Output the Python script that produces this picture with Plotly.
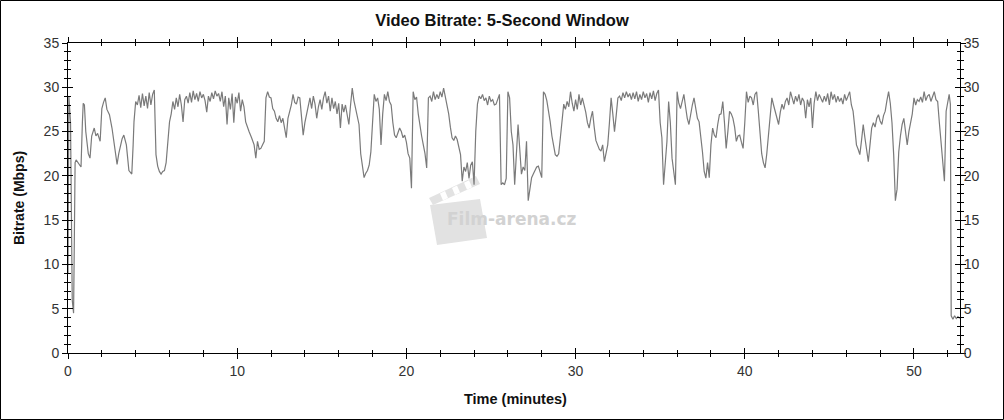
import plotly.graph_objects as go

# ---- data ----
time_min = [
    0, 0.05, 0.15, 0.25, 0.33, 0.42, 0.48, 0.6, 0.77, 0.85, 0.9, 0.97, 1.05, 1.2, 1.3, 1.4, 1.55, 1.65, 1.75, 1.9,
    2.0, 2.1, 2.2, 2.3, 2.45, 2.6, 2.7, 2.8, 2.9, 3.0, 3.1, 3.2, 3.3, 3.45, 3.6, 3.7, 3.77, 3.85, 3.9,
    4.0, 4.1, 4.2, 4.3, 4.4, 4.5, 4.6, 4.7, 4.8, 4.9, 5.0, 5.1, 5.2, 5.3, 5.4, 5.5, 5.6, 5.7, 5.8, 5.9,
    6.0, 6.1, 6.2, 6.3, 6.4, 6.5, 6.6, 6.7, 6.8, 6.9, 7.0, 7.1, 7.2, 7.3, 7.4, 7.5, 7.6, 7.7, 7.8, 7.9,
    8.0, 8.1, 8.2, 8.3, 8.4, 8.5, 8.6, 8.7, 8.8, 8.9, 9.0, 9.1, 9.2, 9.3, 9.4, 9.5, 9.6, 9.7, 9.8, 9.9,
    10.0, 10.1, 10.2, 10.3, 10.4, 10.5, 10.6, 10.7, 10.85, 11.0, 11.1, 11.2, 11.3, 11.4, 11.5, 11.6, 11.7, 11.8, 11.9,
    12.0, 12.1, 12.2, 12.3, 12.4, 12.5, 12.6, 12.7, 12.8, 12.9, 13.0, 13.1, 13.2, 13.3, 13.4, 13.5, 13.6, 13.7, 13.8, 13.9,
    14.0, 14.1, 14.2, 14.3, 14.4, 14.5, 14.6, 14.7, 14.8, 14.9, 15.0, 15.1, 15.2, 15.3, 15.4, 15.5, 15.6, 15.7, 15.8, 15.9,
    16.0, 16.1, 16.2, 16.3, 16.4, 16.5, 16.6, 16.7, 16.8, 16.9, 17.0, 17.1, 17.2, 17.3, 17.4, 17.5, 17.6, 17.7, 17.8, 17.9,
    18.0, 18.1, 18.2, 18.3, 18.4, 18.5, 18.6, 18.7, 18.8, 18.9, 19.0, 19.1, 19.2, 19.3, 19.4, 19.5, 19.6, 19.7, 19.8, 19.9,
    20.0, 20.1, 20.2, 20.3, 20.4, 20.5, 20.6, 20.7, 20.8, 20.9, 21.0, 21.1, 21.2, 21.3, 21.4, 21.5, 21.6, 21.7, 21.8, 21.9,
    22.0, 22.1, 22.2, 22.3, 22.4, 22.5, 22.6, 22.7, 22.8, 22.9, 23.0, 23.1, 23.2, 23.3, 23.4, 23.5, 23.6, 23.7, 23.8, 23.9,
    24.0, 24.1, 24.2, 24.3, 24.4, 24.5, 24.6, 24.7, 24.8, 24.9, 25.0, 25.1, 25.2, 25.3, 25.4, 25.5, 25.6, 25.7, 25.8, 25.9,
    26.0, 26.1, 26.2, 26.3, 26.4, 26.5, 26.6, 26.7, 26.8, 26.9, 27.0, 27.1, 27.2, 27.3, 27.4, 27.5, 27.6, 27.7, 27.8, 27.9,
    28.0, 28.1, 28.2, 28.3, 28.4, 28.5, 28.6, 28.7, 28.8, 28.9, 29.0, 29.1, 29.2, 29.3, 29.4, 29.5, 29.6, 29.7, 29.8, 29.9,
    30.0, 30.1, 30.2, 30.3, 30.4, 30.5, 30.6, 30.7, 30.8, 30.9, 31.0, 31.1, 31.2, 31.3, 31.4, 31.5, 31.6, 31.7, 31.8, 31.9,
    32.0, 32.1, 32.2, 32.3, 32.4, 32.5, 32.6, 32.7, 32.8, 32.9, 33.0, 33.1, 33.2, 33.3, 33.4, 33.5, 33.6, 33.7, 33.8, 33.9,
    34.0, 34.1, 34.2, 34.3, 34.4, 34.5, 34.6, 34.7, 34.8, 34.9, 35.0, 35.1, 35.2, 35.3, 35.4, 35.5, 35.6, 35.7, 35.8, 35.9,
    36.0, 36.1, 36.2, 36.3, 36.4, 36.5, 36.6, 36.7, 36.8, 36.9, 37.0, 37.1, 37.2, 37.3, 37.4, 37.5, 37.6, 37.7, 37.8, 37.9,
    38.0, 38.1, 38.2, 38.3, 38.4, 38.5, 38.6, 38.7, 38.8, 38.9, 39.0, 39.1, 39.2, 39.3, 39.4, 39.5, 39.6, 39.7, 39.8, 39.9,
    40.0, 40.1, 40.2, 40.3, 40.4, 40.5, 40.6, 40.7, 40.8, 40.9, 41.0, 41.1, 41.2, 41.3, 41.4, 41.5, 41.6, 41.7, 41.8, 41.9,
    42.0, 42.1, 42.2, 42.3, 42.4, 42.5, 42.6, 42.7, 42.8, 42.9, 43.0, 43.1, 43.2, 43.3, 43.4, 43.5, 43.6, 43.7, 43.8, 43.9,
    44.0, 44.1, 44.2, 44.3, 44.4, 44.5, 44.6, 44.7, 44.8, 44.9, 45.0, 45.1, 45.2, 45.3, 45.4, 45.5, 45.6, 45.7, 45.8, 45.9,
    46.0, 46.1, 46.2, 46.3, 46.4, 46.5, 46.6, 46.7, 46.8, 46.9, 47.0, 47.1, 47.2, 47.3, 47.4, 47.5, 47.6, 47.7, 47.8, 47.9,
    48.0, 48.1, 48.2, 48.3, 48.4, 48.5, 48.6, 48.7, 48.8, 48.9, 49.0, 49.1, 49.2, 49.3, 49.4, 49.5, 49.6, 49.7, 49.8, 49.9,
    50.0, 50.1, 50.2, 50.3, 50.4, 50.5, 50.6, 50.7, 50.8, 50.9, 51.0, 51.1, 51.2, 51.3, 51.4, 51.5, 51.6, 51.7, 51.8, 51.9,
    52.0, 52.08, 52.15, 52.2, 52.3, 52.4, 52.5, 52.6, 52.7,
]

bitrate_mbps = [
    9.0, 29.0, 26.0, 6.0, 4.5, 21.5, 21.8, 21.5, 21.0, 26.0, 28.2, 28.0, 25.0, 22.5, 22.0, 24.5, 25.4, 24.5, 24.8, 23.9,
    27.6, 28.3, 28.8, 27.5, 26.9, 25.4, 24.1, 22.5, 21.3, 22.5, 23.5, 24.2, 24.6, 23.5, 20.6, 20.4, 20.2, 23.5, 26.1,
    28.4, 28.0, 29.1, 27.7, 29.3, 27.9, 29.0, 27.6, 29.4, 28.0, 29.2, 29.7, 22.4, 21.1, 20.5, 20.2, 20.5, 20.6, 21.5, 23.5,
    26.1, 27.0, 28.4, 27.5, 28.8, 27.8, 29.2, 28.0, 26.1, 28.6, 29.0, 28.2, 29.4, 28.3, 29.6, 28.6, 29.3, 28.4, 29.5, 28.8,
    29.2, 28.5, 27.2, 29.0, 28.4, 29.4, 28.7, 29.6, 29.0, 29.3, 28.4, 29.5, 27.8, 29.0, 25.8, 28.8, 27.5, 29.3, 26.0, 28.9,
    28.2, 29.4, 27.3, 28.6, 27.8, 26.1, 25.5, 25.0, 24.3, 23.5, 22.0, 23.9, 23.0, 23.1, 23.5, 23.9, 28.8, 29.5, 28.9,
    28.8, 27.6, 27.3, 26.5, 26.1, 26.8, 26.0, 26.5, 25.5, 24.3, 26.5, 27.3, 28.0, 29.2, 28.3, 28.1, 28.9, 28.8, 26.5, 24.6,
    26.0, 26.9, 28.0, 28.8, 27.6, 29.0, 28.1, 26.5, 27.8, 28.6, 27.5, 28.8, 29.5, 28.2, 29.0, 27.3, 28.8, 27.6, 28.4, 27.0,
    28.2, 25.4, 28.1, 27.2, 28.0, 26.8, 25.8, 28.0, 29.9, 28.5, 27.6, 26.8, 25.8, 22.5, 20.9, 19.8, 20.3, 20.6, 21.2, 22.7,
    26.0, 29.2, 28.4, 28.8, 27.5, 23.5, 27.0, 29.2, 28.5, 29.5, 28.4, 28.0, 26.0, 24.6, 24.3, 24.8, 25.4, 25.0, 24.3, 24.6,
    23.8, 22.5, 22.0, 18.6, 29.5, 28.6, 28.9, 27.0, 25.4, 24.5, 23.5, 22.5, 20.9, 28.8, 29.0, 28.4, 29.5, 28.6, 29.2, 28.7,
    29.5, 28.9, 29.9, 29.0, 28.1, 27.0, 25.5, 24.3, 24.0, 24.5, 24.1, 23.2, 22.4, 19.4, 21.0, 20.5, 21.5, 19.7, 21.2, 21.6,
    19.0, 25.0, 28.1, 29.0, 28.7, 29.2, 28.5, 28.8, 28.0, 29.0, 28.4, 28.6, 28.0, 28.1, 28.6, 29.2, 19.0, 19.2, 19.0, 19.7,
    29.5, 28.8, 25.0, 23.5, 19.0, 22.0, 25.8, 23.0, 20.2, 21.0, 20.6, 23.9, 17.2, 18.5, 19.8, 20.2, 20.6, 21.0, 21.1, 20.4,
    19.8, 29.5, 29.2, 28.5, 27.5, 26.1, 24.5, 23.2, 22.4, 22.2, 22.5, 24.3, 26.5, 28.1, 27.5, 28.4, 27.8, 29.5, 28.2, 27.3,
    28.6, 27.5, 29.2, 28.0, 28.8, 28.1, 27.2, 26.0, 25.4, 26.5, 27.3, 25.5, 24.0, 23.5, 23.0, 22.8, 23.5, 21.6, 22.5, 23.5,
    26.0, 28.8, 27.0, 25.0, 26.8, 28.8, 29.0, 28.5, 29.4, 28.8, 29.5, 28.9, 29.3, 28.6, 29.4, 28.7, 29.5, 28.4, 29.2, 28.6,
    29.5, 28.8, 29.3, 28.3, 29.4, 28.7, 29.6, 28.5, 29.3, 29.7, 26.0, 24.3, 19.0, 22.0, 23.9, 28.4, 26.0, 22.0, 20.6, 19.0,
    29.5, 28.2, 27.6, 28.5, 29.2, 27.8, 26.5, 25.8, 27.0, 28.0, 28.8, 27.5, 26.5, 26.1, 24.5, 22.7, 20.5, 19.75, 21.5, 19.8,
    23.5, 25.4, 24.6, 24.3, 25.8, 26.9, 27.0, 28.4, 26.0, 23.1, 25.0, 27.3, 27.0, 26.5, 25.5, 23.9, 24.5, 24.6, 23.8, 23.1,
    26.0, 29.5, 28.3, 29.0, 28.8, 28.0, 29.2, 29.5, 27.3, 25.0, 22.5, 21.5, 20.9, 22.5, 24.6, 27.0, 28.8, 28.0, 27.3, 26.5,
    25.8, 27.2, 28.1, 27.5, 28.4, 28.8, 28.0, 29.5, 28.6, 28.1, 29.0, 28.4, 29.2, 28.0, 28.8, 28.4, 26.5, 28.6, 27.8, 28.8,
    25.4, 28.2, 29.5, 28.5, 29.2, 28.8, 28.3, 29.0, 28.4, 29.3, 28.0, 29.5, 28.6, 29.2, 28.3, 29.0, 28.4, 28.8, 28.1, 29.2,
    28.5, 29.0, 29.5, 28.0, 27.3, 25.5, 23.5, 23.0, 22.4, 24.0, 25.8, 24.3, 23.0, 21.6, 23.5, 25.4, 26.0, 25.5, 26.5, 26.9,
    26.2, 25.8, 26.8, 27.3, 28.5, 29.5, 28.2, 26.0, 22.4, 17.2, 18.5, 22.7, 24.5, 25.8, 26.5, 24.6, 23.5, 25.0, 26.1, 27.0,
    28.8, 28.0, 28.6, 28.4, 28.9, 28.3, 29.5, 28.5, 29.0, 29.2, 28.4, 29.0, 29.5, 28.6, 28.4, 26.0, 23.5, 22.0, 19.4, 27.3,
    28.5, 29.2, 28.1, 4.2, 3.8, 4.2, 3.9, 4.1, 3.9,
]

x_ticks = [0, 10, 20, 30, 40, 50]
y_ticks = [0, 5, 10, 15, 20, 25, 30, 35]
x_range = [0, 52.72]
y_range = [0, 35]

title_text = "Video Bitrate: 5-Second Window"
x_title = "Time (minutes)"
y_title = "Bitrate (Mbps)"
watermark = "Film-arena.cz"

FONT = "Liberation Sans, Arial, sans-serif"
INK = "#000000"
TICKFONT = dict(family=FONT, size=14, color="#333333")

fig = go.Figure()
fig.add_trace(go.Scatter(
    x=time_min, y=bitrate_mbps, mode="lines",
    line=dict(color="#7a7a7a", width=1.2), hoverinfo="skip", showlegend=False,
))

common_x = dict(range=x_range, showgrid=False, zeroline=False, showline=True,
                linecolor=INK, linewidth=1, tickcolor=INK, tickwidth=1, automargin=False,
                mirror="allticks", tickvals=x_ticks, fixedrange=True)
common_y = dict(range=y_range, showgrid=False, zeroline=False, showline=True,
                linecolor=INK, linewidth=1, tickcolor=INK, tickwidth=1, automargin=False,
                mirror="allticks", tickvals=y_ticks, fixedrange=True)

fig.update_layout(
    width=1004, height=420,
    margin=dict(l=68, r=44, t=43, b=67, autoexpand=False),
    paper_bgcolor="white", plot_bgcolor="white",
    font=dict(family=FONT, size=14, color="#222222"),
    title=dict(text="<b>" + title_text + "</b>", x=0.5, xanchor="center",
               y=1 - 20 / 420, yanchor="middle", yref="container",
               font=dict(family=FONT, size=16.5, color="#111111")),
    xaxis=dict(**common_x, ticks="outside", ticklen=5,
               minor=dict(dtick=2, tick0=0, ticks="outside", ticklen=3, tickcolor=INK),
               tickfont=TICKFONT),
    xaxis2=dict(**common_x, overlaying="x", anchor="y", side="bottom", ticks="inside", ticklen=5,
                minor=dict(dtick=2, tick0=0, ticks="inside", ticklen=3, tickcolor=INK),
                showticklabels=False),
    yaxis=dict(**common_y, ticks="outside", ticklen=5,
               minor=dict(dtick=1, tick0=0, ticks="outside", ticklen=3, tickcolor=INK),
               tickfont=TICKFONT),
    yaxis2=dict(**common_y, overlaying="y", anchor="x", side="right", ticks="inside", ticklen=5,
                minor=dict(dtick=1, tick0=0, ticks="inside", ticklen=3, tickcolor=INK),
                showticklabels=True, ticklabelstandoff=0, tickfont=TICKFONT),
)

# helper trace so the overlay axes render
fig.add_trace(go.Scatter(x=[None], y=[None], xaxis="x2", yaxis="y2", showlegend=False, hoverinfo="skip"))

PW, PH = 892.0, 310.0
def px(xp):
    return (xp - 68) / PW
def py(yp):
    return (353 - yp) / PH

# axis titles
fig.add_annotation(text="<b>" + y_title + "</b>", xref="paper", yref="paper",
                   x=px(19), y=py(198), textangle=-90, showarrow=False,
                   xanchor="center", yanchor="middle",
                   font=dict(family=FONT, size=14, color="#111111"))
fig.add_annotation(text="<b>" + x_title + "</b>", xref="paper", yref="paper",
                   x=px(515), y=py(399), showarrow=False,
                   xanchor="center", yanchor="middle",
                   font=dict(family=FONT, size=14.5, color="#111111"))

# watermark clapperboard (decoration)
wm = "#e2e2e2"
body = "M {} {} L {} {} L {} {} L {} {} Z".format(px(430), py(205), px(480), py(199), px(487), py(238), px(437), py(245))
fig.add_shape(type="path", path=body, xref="paper", yref="paper", fillcolor=wm, line=dict(width=0), layer="below")
slat = "M {} {} L {} {} L {} {} L {} {} Z".format(px(429), py(198), px(476), py(176), px(480), py(184), px(433), py(205))
fig.add_shape(type="path", path=slat, xref="paper", yref="paper", fillcolor=wm, line=dict(width=0), layer="below")
for sx in (440, 452, 464):
    stripe = "M {} {} L {} {} L {} {} L {} {} Z".format(
        px(sx), py(193.5 - (sx - 440) * 0.45), px(sx + 5), py(191 - (sx - 440) * 0.45),
        px(sx + 8), py(198 - (sx - 440) * 0.45), px(sx + 3), py(200.5 - (sx - 440) * 0.45))
    fig.add_shape(type="path", path=stripe, xref="paper", yref="paper", fillcolor="white",
                  line=dict(width=0), layer="below")
fig.add_annotation(text="<b>" + watermark + "</b>", xref="paper", yref="paper",
                   x=px(512), y=py(219), showarrow=False, xanchor="center", yanchor="middle",
                   font=dict(family="DejaVu Sans, sans-serif", size=17, color="#d2d2d2"))

# outer frame
fig.add_shape(type="rect", xref="paper", yref="paper",
              x0=px(0.5), x1=px(1003.5), y0=py(419.5), y1=py(0.5),
              line=dict(color="#000000", width=1), fillcolor="rgba(0,0,0,0)")

fig.write_html("out.html", config={"displayModeBar": False, "staticPlot": True},
               post_script="document.body.style.margin='0';document.body.style.padding='0';")
